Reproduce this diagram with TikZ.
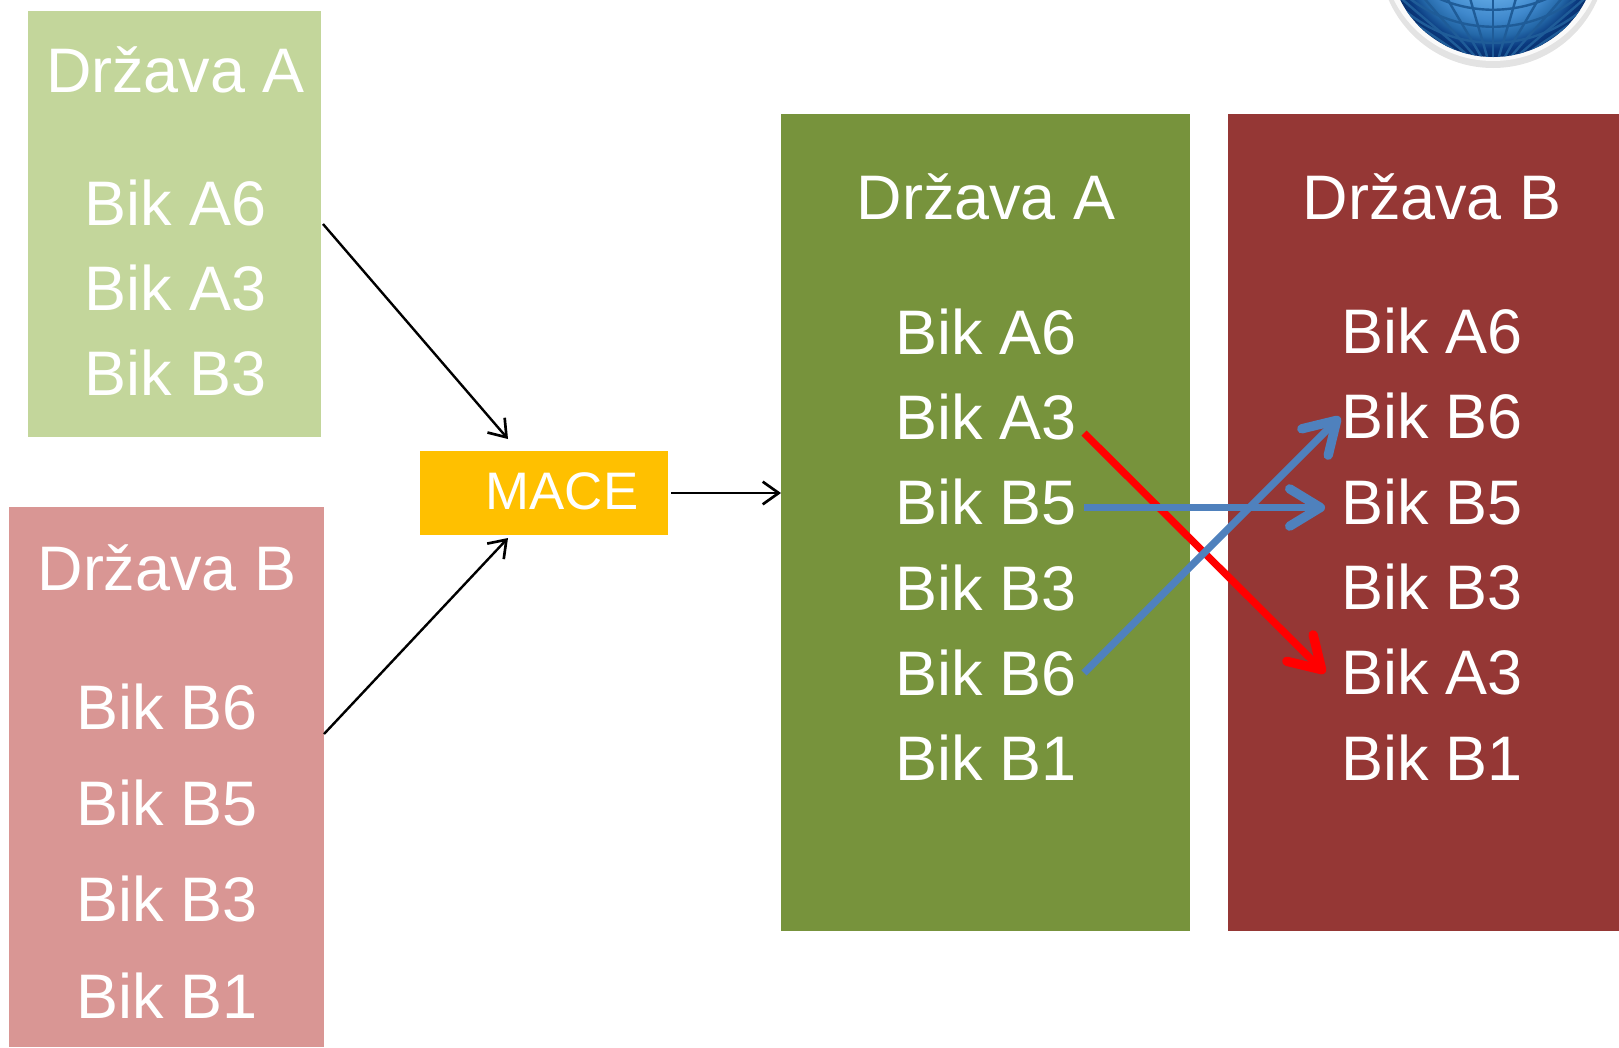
\documentclass[tikz,border=0pt]{standalone}
\usepackage{fontspec}
\setmainfont{Liberation Sans}
\usetikzlibrary{arrows.meta}
\definecolor{lgreen}{HTML}{C3D69B}
\definecolor{dgreen}{HTML}{77933C}
\definecolor{pinkb}{HTML}{D99694}
\definecolor{dred}{HTML}{953735}
\definecolor{orangeb}{HTML}{FFC000}
\definecolor{blueb}{HTML}{4F81BD}
\definecolor{gline}{HTML}{1F5C98}
\definecolor{gc}{HTML}{7FC0F2}
\definecolor{gm}{HTML}{5BA3E0}
\definecolor{gn}{HTML}{3F88CC}
\definecolor{ge}{HTML}{2468A8}
\definecolor{gf}{HTML}{0A3A80}
\definecolor{gd}{HTML}{08306E}
\pgfdeclareradialshading{globeshade}{\pgfpoint{0bp}{0bp}}{color(0bp)=(gc); color(11bp)=(gm); color(16bp)=(gn); color(20bp)=(ge); color(23bp)=(gf); color(25bp)=(gd); color(50bp)=(gd)}
\tikzset{
  x=0.75pt,y=-0.75pt,
  panel/.style={draw=none,inner sep=0pt,outer sep=0pt},
  lab/.style={text=white,anchor=base,inner sep=0pt,font=\fontsize{47.2}{50}\selectfont},
  macelab/.style={text=white,anchor=base,inner sep=0pt,font=\fontsize{39.6}{42}\selectfont},
  thin arrow/.style={draw=black,line width=1.8pt,-{Straight Barb[length=12pt,width=17pt,line width=2pt]}},
  thick arrow/.style={line width=5.5pt,-{Straight Barb[length=23pt,width=28pt,line width=7pt,round]}},
}
\begin{document}
\begin{tikzpicture}
\useasboundingbox (0,0) rectangle (1619,1047);
% globe
\begin{scope}
\clip (1380,0) rectangle (1619,68);
\fill[white!78!gray] (1493,-46) circle [radius=114*0.75pt];
\fill[white!96!gray] (1493,-50) circle [radius=111*0.75pt];
\begin{scope}
\clip (1493,-47) circle [radius=104*0.75pt];
\shade[shading=globeshade] (1493,-47) circle [radius=104*0.75pt];
\foreach \d in {10,27,43}
  \draw[gline,line width=1.8pt] (1383,\d-55) .. controls (1440,\d+18) and (1546,\d+18) .. (1603,\d-55);
\foreach \k in {-5,...,5}
  \draw[gline,line width=1.8pt] (1493+\k*28,-20) .. controls (1493+\k*20,10) and (1493+\k*12,35) .. (1493+\k*5,60);
\end{scope}
\end{scope}
% panels
\fill[lgreen] (28,11) rectangle (321,437);
\fill[pinkb] (9,507) rectangle (324,1047);
\fill[dgreen] (781,114) rectangle (1190,931);
\fill[dred] (1228,114) rectangle (1619,931);
\node[panel,fill=orangeb,minimum width=186pt,minimum height=63pt] (mace) at (544,493) {};
% light green labels
\node[lab] (a0) at (175.5,92.5) {Država A};
\node[lab] (a1) at (175.5,225.5) {Bik A6};
\node[lab] (a2) at (175.5,310.5) {Bik A3};
\node[lab] (a3) at (175.5,395.5) {Bik B3};
% pink labels
\node[lab] (b0) at (167,590) {Država B};
\node[lab] (b1) at (167,729.5) {Bik B6};
\node[lab] (b2) at (167,825.5) {Bik B5};
\node[lab] (b3) at (167,921.5) {Bik B3};
\node[lab] (b4) at (167,1018) {Bik B1};
\node[macelab] (mt) at (562,509) {MACE};
% green labels
\node[lab] (c0) at (986,219.5) {Država A};
\node[lab] (c1) at (986,354) {Bik A6};
\node[lab] (c2) at (986,439.5) {Bik A3};
\node[lab] (c3) at (986,524.5) {Bik B5};
\node[lab] (c4) at (986,610) {Bik B3};
\node[lab] (c5) at (986,695.5) {Bik B6};
\node[lab] (c6) at (986,780.5) {Bik B1};
% red labels
\node[lab] (d0) at (1432,219.5) {Država B};
\node[lab] (d1) at (1432,353) {Bik A6};
\node[lab] (d2) at (1432,438.5) {Bik B6};
\node[lab] (d3) at (1432,524) {Bik B5};
\node[lab] (d4) at (1432,609.5) {Bik B3};
\node[lab] (d5) at (1432,694.5) {Bik A3};
\node[lab] (d6) at (1432,780) {Bik B1};
% thin connectors
\coordinate (s1) at (323,224);
\coordinate (t1) at (508,439);
\coordinate (s2) at (324,734);
\coordinate (t2) at (508,538);
\coordinate (s3) at (671,493);
\coordinate (t3) at (781,493);
\draw[thin arrow] (s1) -- (t1);
\draw[thin arrow] (s2) -- (t2);
\draw[thin arrow] (s3) -- (t3);
% thick connectors
\coordinate (ra) at (1084,433);
\coordinate (rb) at (1325,673);
\coordinate (ba) at (1084,673);
\coordinate (bb) at (1340,417);
\coordinate (ca) at (1084,507.5);
\coordinate (cb) at (1325,507.5);
\draw[thick arrow,draw=red] (ra) -- (rb);
\draw[thick arrow,draw=blueb] (ba) -- (bb);
\draw[thick arrow,draw=blueb] (ca) -- (cb);
\end{tikzpicture}
\end{document}
